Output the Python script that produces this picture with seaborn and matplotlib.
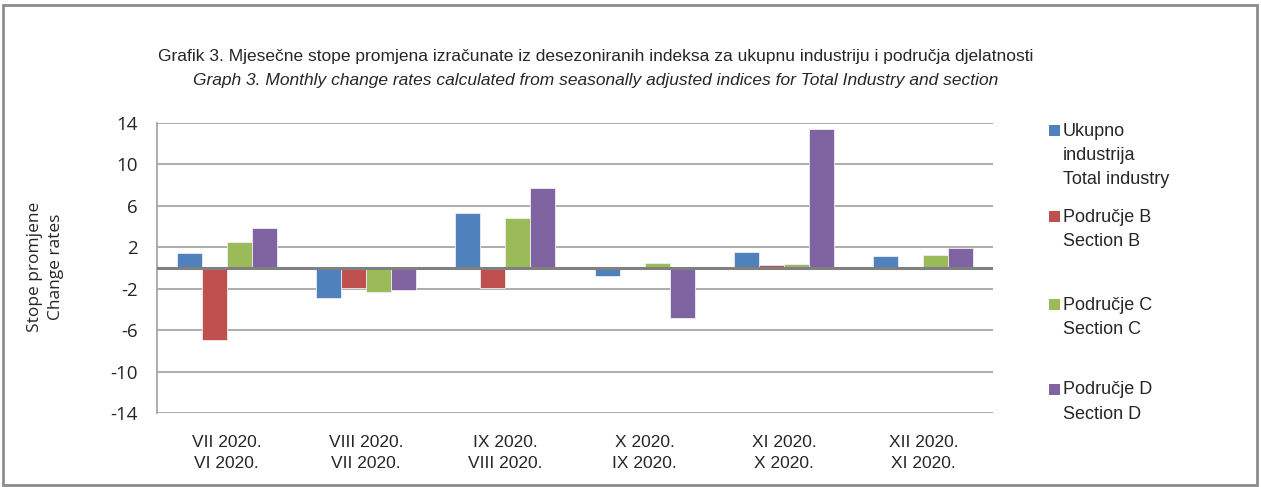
import matplotlib
matplotlib.use("Agg")
import matplotlib.pyplot as plt
import seaborn as sns
import pandas as pd
from matplotlib.patches import Rectangle

periods = ["VII 2020.\nVI 2020.", "VIII 2020.\nVII 2020.", "IX 2020.\nVIII 2020.",
           "X 2020.\nIX 2020.", "XI 2020.\nX 2020.", "XII 2020.\nXI 2020."]
series = ["Ukupno industrija Total industry", "Područje B Section B",
          "Područje C Section C", "Područje D Section D"]
total_industry = [1.4, -2.9, 5.3, -0.8, 1.5, 1.2]
section_b = [-7.0, -1.9, -1.9, 0.0, 0.3, 0.0]
section_c = [2.5, -2.3, 4.8, 0.5, 0.4, 1.3]
section_d = [3.9, -2.1, 7.7, -4.8, 13.4, 1.9]
legend_lines = [["Ukupno", "industrija", "Total industry"],
                ["Područje B", "Section B"],
                ["Područje C", "Section C"],
                ["Područje D", "Section D"]]
yticks = [-14, -10, -6, -2, 2, 6, 10, 14]
colors = ["#4F81BD", "#C0504D", "#9BBB59", "#8064A2"]

rows = []
for s, vals in zip(series, [total_industry, section_b, section_c, section_d]):
    for p, v in zip(periods, vals):
        rows.append({"period": p, "series": s, "value": v})
df = pd.DataFrame(rows)

sns.set_style("white")
plt.rcParams["font.family"] = ["Liberation Sans", "DejaVu Sans"]

W, H = 1261, 487
fig = plt.figure(figsize=(W / 100, H / 100), dpi=100)
ax = fig.add_axes([157 / W, 1 - 413 / H, (993 - 157) / W, (413 - 123) / H])

sns.barplot(data=df, x="period", y="value", hue="series", order=periods,
            hue_order=series, palette=colors, saturation=1, width=0.72, gap=0,
            edgecolor="#EDEDF5", linewidth=0.6, errorbar=None, legend=False,
            ax=ax, zorder=3)

ax.set_ylim(-14, 14)
ax.set_xlim(-0.5, len(periods) - 0.5)
ax.set_yticks(yticks)
ax.set_yticklabels([str(t) for t in yticks], fontsize=13.5, family=["Open Sans", "DejaVu Sans"])
ax.tick_params(axis="y", length=0, pad=14)
ax.tick_params(axis="x", length=0, pad=16, labelsize=12.5)
for lbl in ax.get_xticklabels():
    lbl.set_linespacing(1.45)
ax.set_xlabel("")
ax.set_ylabel("")
for t in yticks:
    ax.axhline(t, color="#A6A6A6", lw=1.3, zorder=1)
ax.axhline(0, color="#808080", lw=2.2, zorder=4)
for sp in ["top", "right", "bottom"]:
    ax.spines[sp].set_visible(False)
ax.spines["left"].set_color("#A6A6A6")
ax.spines["left"].set_linewidth(1.3)

# titles
fig.text(596 / W, 1 - 56 / H,
         "Grafik 3. Mjesečne stope promjena izračunate iz desezoniranih indeksa za ukupnu industriju i područja djelatnosti",
         ha="center", va="center", fontsize=12.5,
         family=["Liberation Sans Narrow", "Liberation Sans", "DejaVu Sans"])
fig.text(596 / W, 1 - 81 / H,
         "Graph 3. Monthly change rates calculated from seasonally adjusted indices for Total Industry and section",
         ha="center", va="center", fontsize=12.5, style="italic",
         family=["Liberation Sans Narrow", "Liberation Sans", "DejaVu Sans"])

# y label
fig.text(35 / W, 1 - 267 / H, "Stope promjene", rotation=90, ha="center", va="center",
         fontsize=12.5, family=["Open Sans", "DejaVu Sans"])
fig.text(56 / W, 1 - 267 / H, "Change rates", rotation=90, ha="center", va="center",
         fontsize=12.5, family=["Open Sans", "DejaVu Sans"])

# legend
first_y = [131, 217, 305, 390]
for c, lines, y0 in zip(colors, legend_lines, first_y):
    fig.patches.append(Rectangle((1049 / W, 1 - (y0 + 5) / H), 11 / W, 11 / H,
                                 transform=fig.transFigure, facecolor=c,
                                 edgecolor="none", figure=fig))
    for i, line in enumerate(lines):
        fig.text(1063 / W, 1 - (y0 + 24.5 * i) / H, line, ha="left", va="center",
                 fontsize=13)

# outer frame
fig.patches.append(Rectangle((3 / W, 2 / H), (1257 - 3) / W, (482 - 2) / H,
                             transform=fig.transFigure, facecolor="none",
                             edgecolor="#8C8C8C", lw=2, figure=fig))

fig.savefig("out.png", dpi=100)
